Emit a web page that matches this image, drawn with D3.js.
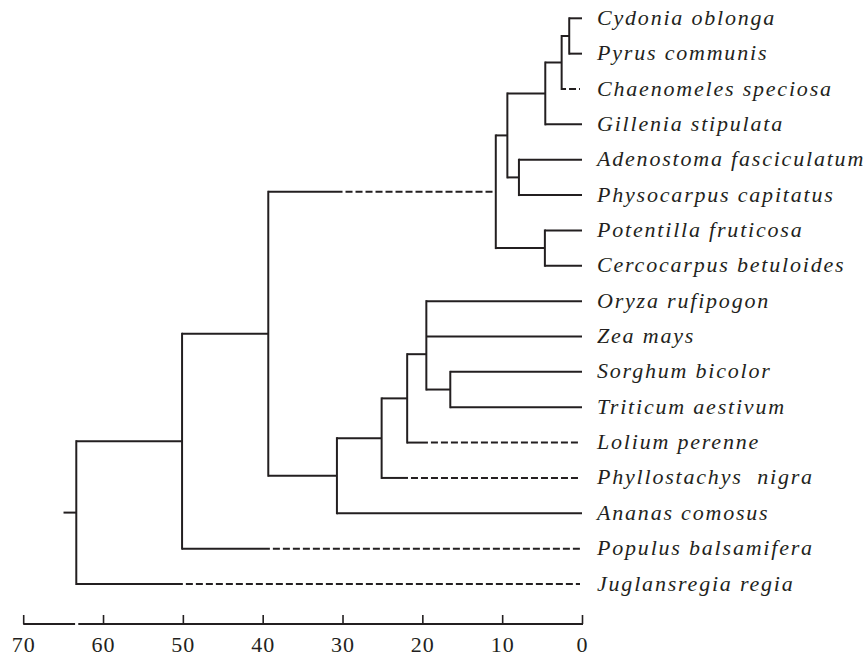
<!DOCTYPE html>
<html>
<head>
<meta charset="utf-8">
<script src="https://cdn.jsdelivr.net/npm/d3@7/dist/d3.min.js"></script>
<style>
  html, body { margin: 0; padding: 0; background: #fff; }
  svg { display: block; }
  .leaf { font-family: "Liberation Serif", "Times New Roman", serif; font-style: italic; font-size: 22px; letter-spacing: 1.8px; fill: #231f20; white-space: pre; }
  .tick text { font-family: "Liberation Serif", "Times New Roman", serif; font-size: 22px; letter-spacing: 1px; fill: #231f20; }
</style>
</head>
<body>
<svg id="chart" width="868" height="657"></svg>
<script>
// ---- DATA ----
// Leaf taxa, top to bottom
const taxa = [
  "Cydonia oblonga", "Pyrus communis", "Chaenomeles speciosa", "Gillenia stipulata",
  "Adenostoma fasciculatum", "Physocarpus capitatus", "Potentilla fruticosa", "Cercocarpus betuloides",
  "Oryza rufipogon", "Zea mays", "Sorghum bicolor", "Triticum aestivum",
  "Lolium perenne", "Phyllostachys  nigra", "Ananas comosus", "Populus balsamifera",
  "Juglansregia regia"
];
// Tree table: node id, parent id, divergence time (Mya), time where branch turns dashed
const nodeIds = ["root","n50","n39","ros","r1","r2","r3","cp","ap","pc","gr","g1","g2","g3","st"];
const nodeParents = [null,"root","n50","n39","ros","r1","r2","r3","r1","ros","n39","gr","g1","g2","g3"];
const nodeTimes = [63.35, 50.1, 39.3, 10.8, 9.35, 4.6, 2.55, 1.6, 7.9, 4.65, 30.7, 25.1, 21.9, 19.5, 16.5];
const nodeDashFrom = [null, null, null, 30.0, null, null, null, null, null, null, null, null, null, null, null];
const leafParents = ["cp","cp","r3","r2","ap","ap","pc","pc","g3","g3","st","st","g2","g1","gr","n50","root"];
const leafDashFrom = [null, null, 2.0, null, null, null, null, null, null, null, null, null, 19.3, 21.8, null, 39.1, 50.0];
const rootStub = 1.6;
// Axis
const tickValues = [70, 60, 50, 40, 30, 20, 10, 0];
const axisBreak = [63.5, 63.1];

// ---- BUILD ----
const rows = [];
nodeIds.forEach((id, i) => rows.push({ id, parent: nodeParents[i], time: nodeTimes[i], dashFrom: nodeDashFrom[i], leaf: false }));
taxa.forEach((name, i) => rows.push({ id: name, parent: leafParents[i], time: 0, dashFrom: leafDashFrom[i], leaf: true }));

const root = d3.stratify().id(d => d.id).parentId(d => d.parent)(rows);

const svg = d3.select("#chart");
const ink = "#231f20";

const x = d3.scaleLinear().domain([0, 70]).range([582, 23.2]);
const y = d3.scalePoint().domain(taxa).range([18.3, 584]);

// sort children in leaf order
const leafIndex = new Map(taxa.map((t, i) => [t, i]));
function minLeaf(n) { return n.children ? d3.min(n.children, minLeaf) : leafIndex.get(n.id); }
root.sort((a, b) => minLeaf(a) - minLeaf(b));

// y positions: leaves from scale, binary nodes at midpoint, polytomies at mean of descendant leaves
root.eachAfter(n => {
  if (!n.children) n.py = y(n.id);
  else if (n.children.length === 2) n.py = (n.children[0].py + n.children[1].py) / 2;
  else n.py = d3.mean(n.leaves(), l => l.py);
  n.px = x(n.data.time);
});

const g = svg.append("g")
  .attr("fill", "none").attr("stroke", ink).attr("stroke-width", 2);

// vertical connectors
root.descendants().filter(n => n.children).forEach(n => {
  const c = n.children;
  g.append("line")
    .attr("x1", n.px).attr("x2", n.px)
    .attr("y1", d3.min(c, d => d.py) - 1).attr("y2", d3.max(c, d => d.py) + 1);
});

// horizontal branches
root.descendants().filter(n => n.parent).forEach(n => {
  const x0 = n.parent.px;
  const xEnd = n.children ? n.px : x(0);
  if (n.data.dashFrom == null) {
    g.append("line").attr("x1", x0).attr("x2", xEnd).attr("y1", n.py).attr("y2", n.py);
  } else {
    const xd = x(n.data.dashFrom);
    g.append("line").attr("x1", x0).attr("x2", xd).attr("y1", n.py).attr("y2", n.py);
    g.append("line").attr("x1", xd).attr("x2", n.children ? xEnd : xEnd - 2)
      .attr("y1", n.py).attr("y2", n.py)
      .attr("stroke-dasharray", "7,3").attr("stroke-dashoffset", 7);
  }
});

// root stub
g.append("line")
  .attr("x1", x(root.data.time + rootStub)).attr("x2", root.px)
  .attr("y1", root.py).attr("y2", root.py);

// leaf labels
svg.append("g").selectAll("text")
  .data(root.leaves())
  .join("text")
  .attr("class", "leaf")
  .attr("x", x(0) + 15)
  .attr("y", d => d.py + 6.5)
  .text(d => d.id);

// axis
const axisY = 624;
const axis = d3.axisBottom(x).tickValues(tickValues).tickFormat(d3.format("d"))
  .tickSizeInner(-9).tickSizeOuter(0).tickPadding(12);
const ax = svg.append("g").attr("transform", `translate(0,${axisY})`).call(axis);
ax.select(".domain").remove();
ax.selectAll(".tick line").attr("stroke", ink).attr("stroke-width", 1.6);
ax.selectAll(".tick text").attr("fill", ink);
ax.append("line").attr("x1", x(70)).attr("x2", x(axisBreak[0])).attr("stroke", ink).attr("stroke-width", 2);
ax.append("line").attr("x1", x(axisBreak[1])).attr("x2", x(0) + 1).attr("stroke", ink).attr("stroke-width", 2);
</script>
</body>
</html>
